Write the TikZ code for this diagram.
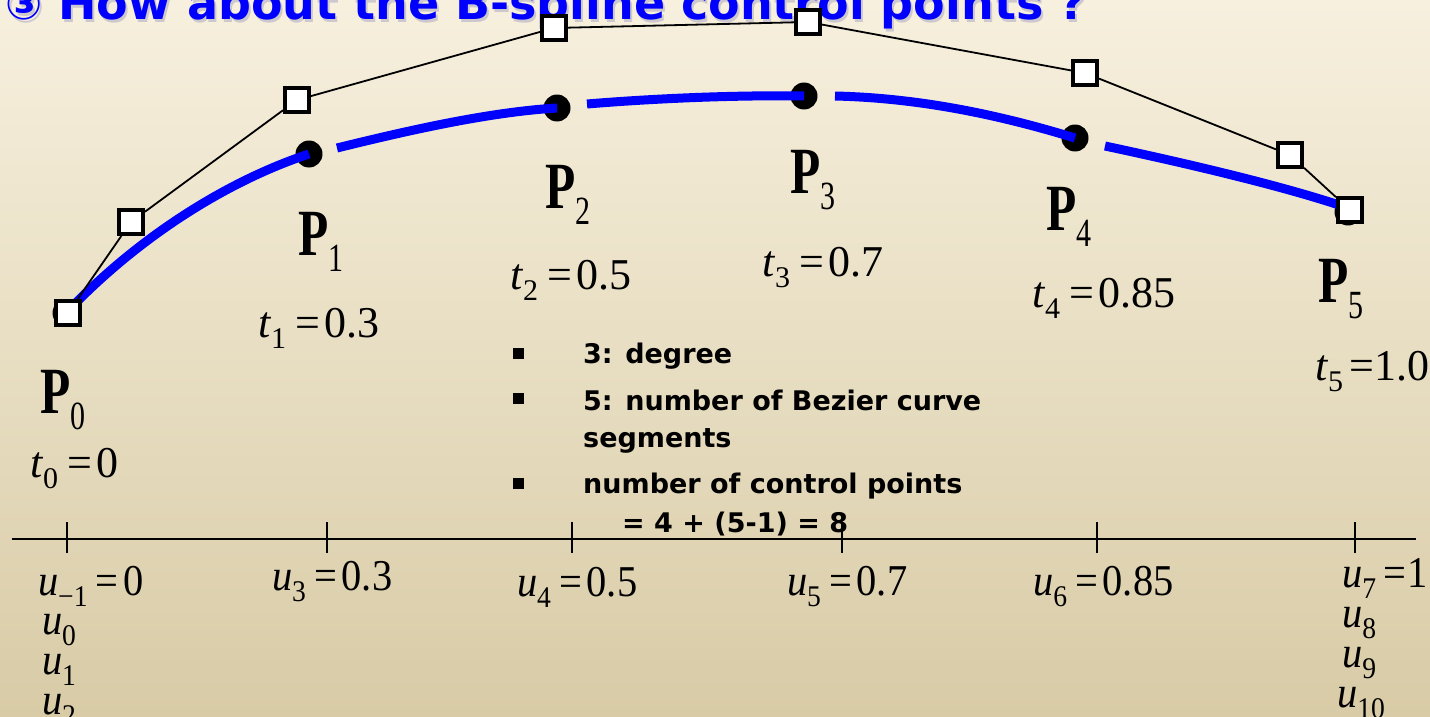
\documentclass[tikz,border=0pt]{standalone}
\usepackage{fontspec}
\setmainfont{Liberation Serif}
\newfontfamily\dejavu{DejaVu Sans}
\usepackage{graphicx}
\definecolor{bgtop}{RGB}{247,240,222}
\definecolor{bgbot}{RGB}{216,203,166}
\definecolor{curveblue}{RGB}{0,0,255}
\definecolor{shadowc}{RGB}{205,200,205}
\newcommand\tlab[3]{\fontsize{44}{44}\selectfont\textit{#1}\raisebox{-11pt}{\fontsize{30}{30}\selectfont #2}\hspace{9pt}=\hspace{5pt}#3}
\newcommand\ulab[3]{\scalebox{0.92}[1]{\tlab{#1}{#2}{#3}}}
\newcommand\usub[1]{\scalebox{0.92}[1]{\fontsize{44}{44}\selectfont\textit{u}\raisebox{-11pt}{\fontsize{30}{30}\selectfont #1}}}
\newcommand\plab[1]{\scalebox{0.75}[1]{\fontsize{66}{66}\selectfont\textbf{P}\raisebox{-16pt}{\fontsize{40}{40}\selectfont #1}}}
\newcommand\titletext{{\fontsize{44}{44}\selectfont ③} How about the B-spline control points ?}
\tikzset{
  cpt/.style={draw=black, line width=4pt, fill=white, rectangle, minimum size=24pt, inner sep=0pt},
  dpt/.style={fill=black, circle, minimum size=27pt, inner sep=0pt},
  poly/.style={draw=black, line width=1.8pt},
  bluecurve/.style={draw=curveblue, line width=9pt},
  lab/.style={anchor=base west, inner sep=0pt, outer sep=0pt},
  bul/.style={fill=black, rectangle, minimum size=11pt, inner sep=0pt},
  bultext/.style={anchor=base west, inner sep=0pt, font=\dejavu\bfseries\fontsize{27}{27}\selectfont},
  axis/.style={draw=black, line width=2pt},
  tick/.style={draw=black, line width=2pt},
  titlestyle/.style={anchor=base west, inner sep=0pt, font=\dejavu\bfseries\fontsize{46}{46}\selectfont}
}
\begin{document}
\begin{tikzpicture}[x=1pt, y=-1pt]
\useasboundingbox (0,0) rectangle (1430,717);
\clip (0,0) rectangle (1430,717);
\shade[top color=bgtop, bottom color=bgbot] (0,0) rectangle (1430,717);

% title with soft shadow
\node[titlestyle, text=shadowc] (titleshadow) at (7,22.5) {\titletext};
\node[titlestyle, text=curveblue] (title) at (5,20) {\titletext};

% data points (dots)
\node[dpt] (p0) at (66,313) {};
\node[dpt] (p1) at (309,154) {};
\node[dpt] (p2) at (557,108) {};
\node[dpt] (p3) at (804,96) {};
\node[dpt] (p4) at (1075,138) {};
\node[dpt] (p5) at (1348,212) {};

% blue curve segments
\coordinate (s2) at (337,148);
\coordinate (s3) at (587,104);
\coordinate (s4) at (835,96);
\coordinate (s5) at (1105,146);
\coordinate (e5) at (1345,207);
\draw[bluecurve] (p0.center) .. controls (140,235) and (230,180) .. (p1.center);
\draw[bluecurve] (s2) .. controls (410,130) and (490,112) .. (p2.center);
\draw[bluecurve] (s3) .. controls (660,98) and (740,95) .. (p3.center);
\draw[bluecurve] (s4) .. controls (920,98) and (1000,115) .. (p4.center);
\draw[bluecurve] (s5) .. controls (1180,162) and (1280,185) .. (e5);

% control points
\node[cpt] (c0) at (68,313) {};
\node[cpt] (c1) at (131,222) {};
\node[cpt] (c2) at (297,100) {};
\node[cpt] (c3) at (554,28) {};
\node[cpt] (c4) at (808,22) {};
\node[cpt] (c5) at (1085,73) {};
\node[cpt] (c6) at (1290,155) {};
\node[cpt] (c7) at (1350,210) {};
\draw[poly] (c0) -- (c1) -- (c2) -- (c3) -- (c4) -- (c5) -- (c6) -- (c7);

% P labels
\node[lab] (lP0) at (40,413) {\plab{0}};
\node[lab] (lP1) at (298,255) {\plab{1}};
\node[lab] (lP2) at (545,208) {\plab{2}};
\node[lab] (lP3) at (790,193) {\plab{3}};
\node[lab] (lP4) at (1046,230) {\plab{4}};
\node[lab] (lP5) at (1318,302) {\plab{5}};

% t labels
\node[lab] (t0) at (30,477) {\tlab{t}{0}{0}};
\node[lab] (t1) at (258,337) {\tlab{t}{1}{0.3}};
\node[lab] (t2) at (510,289) {\tlab{t}{2}{0.5}};
\node[lab] (t3) at (762,276) {\tlab{t}{3}{0.7}};
\node[lab] (t4) at (1032,307) {\tlab{t}{4}{0.85}};
\node[lab] (t5) at (1315,380) {\fontsize{44}{44}\selectfont\textit{t}\raisebox{-11pt}{\fontsize{30}{30}\selectfont 5}\hspace{6pt}=\hspace{1pt}1.0};

% bullets
\node[bul] (b1) at (518,353) {};
\node[bul] (b2) at (518,398) {};
\node[bul] (b3) at (518,483) {};
\node[bultext] (bt1) at (583,363) {3: degree};
\node[bultext] (bt2) at (583,410) {5: number of Bezier curve};
\node[bultext] (bt2b) at (583,447) {segments};
\node[bultext] (bt3) at (583,493) {number of control points};
\node[bultext] (bt3b) at (622,532) {= 4 + (5-1) = 8};

% axis
\coordinate (axl) at (12,539);
\coordinate (axr) at (1416,539);
\draw[axis] (axl) -- (axr);
\foreach \x/\n in {67/k0,327/k3,572/k4,842/k5,1097/k6,1355/k7}{
  \coordinate (\n t) at (\x,522);
  \coordinate (\n b) at (\x,553);
  \draw[tick] (\n t) -- (\n b);
}

% u labels
\node[lab] (u1) at (38,595) {\ulab{u}{−1}{0}};
\node[lab] (u0) at (42,634) {\usub{0}};
\node[lab] (uu1) at (42,674) {\usub{1}};
\node[lab] (uu2) at (42,714) {\usub{2}};
\node[lab] (u3) at (272,590) {\ulab{u}{3}{0.3}};
\node[lab] (u4) at (517,596) {\ulab{u}{4}{0.5}};
\node[lab] (u5) at (787,595) {\ulab{u}{5}{0.7}};
\node[lab] (u6) at (1033,595) {\ulab{u}{6}{0.85}};
\node[lab] (u7) at (1342,587) {\scalebox{0.92}[1]{\fontsize{44}{44}\selectfont\textit{u}\raisebox{-11pt}{\fontsize{30}{30}\selectfont 7}\hspace{8pt}=\hspace{1pt}1}};
\node[lab] (u8) at (1342,627) {\usub{8}};
\node[lab] (u9) at (1342,667) {\usub{9}};
\node[lab] (u10) at (1337,707) {\usub{10}};
\end{tikzpicture}
\end{document}
